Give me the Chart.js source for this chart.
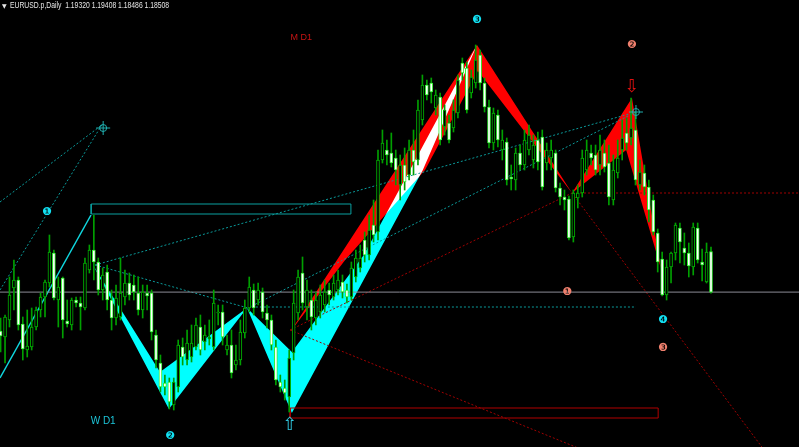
<!DOCTYPE html>
<html>
<head>
<meta charset="utf-8">
<script src="https://cdn.jsdelivr.net/npm/chart.js@4.4.0/dist/chart.umd.min.js"></script>
<style>
  html, body { margin: 0; padding: 0; background: #000; }
  canvas { display: block; }
</style>
</head>
<body>
<canvas id="myChart" width="799" height="447"></canvas>
<script>
// daily EURUSD bars, oldest first
const opens = [
  1.1773,1.1761,1.1795,1.1859,1.1875,1.1787,1.1735,1.1741,1.1781,1.1815,
  1.1841,1.1869,1.1929,1.1835,1.1879,1.1793,1.1785,1.1835,1.1829,1.1819,
  1.1895,1.1935,1.1911,1.1855,1.1891,1.1835,1.1799,1.1801,1.1841,1.1869,
  1.1865,1.1849,1.1815,1.1849,1.1849,1.1765,1.1709,1.1669,1.1671,1.1625,
  1.1661,1.1741,1.1715,1.1721,1.1741,1.1781,1.1751,1.1757,1.1741,1.1809,
  1.1811,1.1735,1.1745,1.1705,1.1715,1.1769,1.1819,1.1855,1.1835,1.1851,
  1.1809,1.1795,1.1741,1.1671,1.1659,1.1641,1.1729,1.1809,1.1889,1.1821,
  1.1835,1.1799,1.1811,1.1825,1.1855,1.1841,1.1855,1.1871,1.1855,1.1841,
  1.1881,1.1899,1.1955,1.1925,1.1985,1.1971,1.2115,1.2135,1.2129,1.2119,
  1.2065,1.2105,1.2085,1.2135,1.2115,1.2195,1.2265,1.2269,1.2219,1.2241,
  1.2181,1.2189,1.2179,1.2209,1.2309,1.2299,1.2249,1.2269,1.2325,1.2269,
  1.2221,1.2149,1.2205,1.2135,1.2151,1.2081,1.2075,1.2129,1.2105,1.2135,
  1.2115,1.2155,1.2161,1.2109,1.2119,1.2129,1.2059,1.2041,1.2037,1.1961,
  1.2039,1.2049,1.2095,1.2129,1.2125,1.2105,1.2129,1.2109,1.2035,1.2089,
  1.2135,1.2169,1.2159,1.2175,1.2065,1.2089,1.2061,1.2035,1.1969,1.1917,
  1.1845,1.1901,1.1929,1.1979,1.1939,1.1929,1.1901,1.1979,1.1911,1.1871,
  1.19320
];
const highs = [
  1.1799,1.1805,1.1881,1.1915,1.1881,1.1801,1.1815,1.1819,1.1821,1.1849,
  1.1875,1.1965,1.1935,1.1881,1.1881,1.1835,1.1839,1.1841,1.1841,1.1919,
  1.1945,1.2005,1.1919,1.1899,1.1905,1.1855,1.1865,1.1919,1.1895,1.1889,
  1.1885,1.1881,1.1865,1.1865,1.1855,1.1775,1.1725,1.1685,1.1679,1.1679,
  1.1755,1.1759,1.1775,1.1785,1.1799,1.1805,1.1785,1.1795,1.1855,1.1825,
  1.1825,1.1765,1.1775,1.1745,1.1795,1.1835,1.1881,1.1867,1.1869,1.1859,
  1.1825,1.1805,1.1755,1.1685,1.1675,1.1735,1.1855,1.1895,1.1921,1.1875,
  1.1855,1.1851,1.1865,1.1875,1.1869,1.1885,1.1895,1.1885,1.1867,1.1911,
  1.1935,1.1945,1.1971,1.2005,1.2035,1.2135,1.2175,1.2155,1.2169,1.2135,
  1.2125,1.2139,1.2155,1.2175,1.2235,1.2285,1.2275,1.2279,1.2255,1.2249,
  1.2225,1.2205,1.2235,1.2285,1.2319,1.2311,1.2295,1.2345,1.2335,1.2279,
  1.2235,1.2219,1.2215,1.2175,1.2159,1.2105,1.2139,1.2145,1.2175,1.2185,
  1.2165,1.2171,1.2175,1.2149,1.2155,1.2135,1.2069,1.2055,1.2043,1.2055,
  1.2065,1.2135,1.2155,1.2145,1.2145,1.2165,1.2155,1.2145,1.2125,1.2155,
  1.2195,1.2199,1.2239,1.2211,1.2115,1.2105,1.2075,1.2045,1.1977,1.1931,
  1.1915,1.1931,1.1989,1.1989,1.1969,1.1949,1.1989,1.1989,1.1937,1.1949,
  1.19408
];
const lows = [
  1.1731,1.1709,1.1781,1.1815,1.1775,1.1715,1.1721,1.1735,1.1775,1.1801,
  1.1801,1.1861,1.1835,1.1781,1.1759,1.1781,1.1775,1.1821,1.1775,1.1815,
  1.1889,1.1875,1.1845,1.1835,1.1815,1.1775,1.1785,1.1795,1.1825,1.1835,
  1.1835,1.1805,1.1799,1.1815,1.1755,1.1699,1.1651,1.1645,1.1617,1.1615,
  1.1651,1.1705,1.1705,1.1711,1.1735,1.1725,1.1735,1.1745,1.1735,1.1785,
  1.1745,1.1725,1.1679,1.1695,1.1705,1.1759,1.1811,1.1805,1.1825,1.1799,
  1.1779,1.1735,1.1665,1.1651,1.1635,1.1611,1.1715,1.1795,1.1815,1.1795,
  1.1775,1.1785,1.1799,1.1811,1.1825,1.1835,1.1845,1.1839,1.1829,1.1835,
  1.1871,1.1891,1.1911,1.1915,1.1951,1.1955,1.2109,1.2105,1.2101,1.2065,
  1.2035,1.2055,1.2075,1.2085,1.2105,1.2185,1.2235,1.2229,1.2205,1.2145,
  1.2165,1.2149,1.2171,1.2199,1.2275,1.2209,1.2239,1.2259,1.2255,1.2211,
  1.2139,1.2135,1.2141,1.2115,1.2065,1.2055,1.2055,1.2095,1.2095,1.2125,
  1.2099,1.2095,1.2055,1.2095,1.2095,1.2051,1.2025,1.2015,1.1955,1.1951,
  1.2019,1.2041,1.2085,1.2105,1.2085,1.2085,1.2091,1.2025,1.2025,1.2079,
  1.2115,1.2135,1.2145,1.2065,1.2055,1.2045,1.1991,1.1965,1.1891,1.1843,
  1.1835,1.1869,1.1915,1.1909,1.1905,1.1881,1.1885,1.1909,1.1873,1.1869,
  1.18486
];
const closes = [
  1.1763,1.1801,1.1845,1.1875,1.1785,1.1737,1.1743,1.1781,1.1815,1.1841,
  1.1871,1.1931,1.1839,1.1861,1.1795,1.1787,1.1835,1.1829,1.1821,1.1909,
  1.1935,1.1911,1.1855,1.1885,1.1835,1.1799,1.1839,1.1849,1.1869,1.1845,
  1.1851,1.1815,1.1851,1.1843,1.1771,1.1715,1.1661,1.1661,1.1631,1.1671,
  1.1745,1.1721,1.1749,1.1749,1.1785,1.1735,1.1765,1.1761,1.1829,1.1811,
  1.1761,1.1745,1.1689,1.1715,1.1771,1.1819,1.1861,1.1819,1.1855,1.1811,
  1.1795,1.1745,1.1675,1.1661,1.1649,1.1719,1.1829,1.1881,1.1829,1.1855,
  1.1801,1.1835,1.1845,1.1851,1.1845,1.1869,1.1875,1.1851,1.1841,1.1899,
  1.1919,1.1919,1.1925,1.1975,1.1965,1.2115,1.2149,1.2125,1.2109,1.2095,
  1.2105,1.2071,1.2135,1.2111,1.2215,1.2265,1.2245,1.2251,1.2245,1.2155,
  1.2215,1.2155,1.2215,1.2275,1.2289,1.2215,1.2281,1.2315,1.2269,1.2221,
  1.2149,1.2209,1.2155,1.2155,1.2075,1.2077,1.2129,1.2105,1.2155,1.2165,
  1.2145,1.2111,1.2061,1.2135,1.2135,1.2059,1.2041,1.2035,1.1959,1.2049,
  1.2049,1.2119,1.2135,1.2119,1.2095,1.2135,1.2101,1.2041,1.2095,1.2119,
  1.2159,1.2149,1.2179,1.2075,1.2091,1.2061,1.2015,1.1971,1.1911,1.1845,
  1.1901,1.1929,1.1985,1.1951,1.1929,1.1903,1.1981,1.1915,1.1905,1.1931,
  1.18508
];
const bars = opens.map((v, i) => i);

// harmonic wings, [bar, price]
const wOuter1 = [[20.8, 1.1905], [37.9, 1.1617], [55.5, 1.1819]];
const wInner1 = [[20.8, 1.1905], [35.9, 1.1691], [55.5, 1.1819]];
const wOuter2 = [[55.5, 1.1819], [65.6, 1.1609], [95.1, 1.2095], [107.3, 1.2345]];
const wInner2 = [[55.5, 1.1819], [65.6, 1.1731], [81.8, 1.1925], [92.2, 1.2095], [107.3, 1.2345]];
const mOuter1 = [[65.2, 1.1771], [107.3, 1.2345], [128.7, 1.2049]];
const mInner1 = [[65.2, 1.1771], [77.6, 1.1915], [95.6, 1.2095], [107.5, 1.2293], [128.7, 1.2049]];
const mOuter2 = [[128.7, 1.2049], [142.2, 1.2239], [148.7, 1.1899]];
const mInner2 = [[128.7, 1.2049], [140.9, 1.2135], [148.7, 1.1899]];

// trend lines
const cyanDots = [
  [[-0.14, 1.2031], [22.8, 1.2185]],
  [[-0.14, 1.1855], [22.8, 1.2185]],
  [[21.3, 1.1905], [143.1, 1.2211]],
  [[21.3, 1.1905], [55.7, 1.1819]],
  [[55.7, 1.1821], [143.1, 1.1821]],
  [[55.7, 1.1819], [143.1, 1.2211]]
];
const cyanSolid = [[-0.14, 1.1679], [20.36, 1.2005]];
const redDots = [
  [[65.2, 1.1775], [128.7, 1.2049]],
  [[65.2, 1.1775], [135, 1.1521]],
  [[128.7, 1.2049], [180, 1.2049]],
  [[128.7, 1.2049], [175.5, 1.1493]]
];
const bidPrice = 1.18508;
const cyanBox = [20.4, 78.9, 1.2007, 1.2027];
const redBox = [65.2, 148.1, 1.1599, 1.1619];
const crossMarks = [[23.1, 1.2179], [143.1, 1.2211]];

// text marks
const labels = [
  [10.45, 1.2011, '\u2776', '#12e0f2', "11px 'DejaVu Sans'"],
  [38.2, 1.1563, '\u2777', '#12e0f2', "11px 'DejaVu Sans'"],
  [107.3, 1.2395, '\u2778', '#12e0f2', "11px 'DejaVu Sans'"],
  [149.2, 1.1795, '\u2779', '#12e0f2', "11px 'DejaVu Sans'"],
  [127.6, 1.1851, '\u2776', '#f0806e', "11px 'DejaVu Sans'"],
  [142.2, 1.2345, '\u2777', '#f0806e', "11px 'DejaVu Sans'"],
  [149.2, 1.1739, '\u2778', '#f0806e', "11px 'DejaVu Sans'"],
  [67.7, 1.2359, 'M D1', '#c81414', "9px 'Liberation Sans'"],
  [23.1, 1.1593, 'W D1', '#1cc4d8', "10px 'Liberation Sans'"],
  [65.2, 1.1585, '\u21E7', '#30c8e0', "18px 'DejaVu Sans'"],
  [142.2, 1.2261, '\u21E9', '#e01010', "18px 'DejaVu Sans'"]
];
const header = 'EURUSD.p,Daily  1.19320 1.19408 1.18486 1.18508';

const toXY = pts => pts.map(p => ({x: p[0], y: p[1]}));
const datasets = [];

function addWing(outer, inner, color) {
  datasets.push({type: 'line', data: toXY(inner), borderColor: 'rgba(0,0,0,0)', borderWidth: 1,
    fill: false, order: 5, blend: 'difference'});
  const target = datasets.length - 1;
  datasets.push({type: 'line', data: toXY(outer), borderColor: 'rgba(0,0,0,0)', borderWidth: 1,
    backgroundColor: color, fill: {target: target, above: color, below: color}, order: 5, blend: 'difference'});
}
function addLine(pts, color, dash, width) {
  datasets.push({type: 'line', data: toXY(pts), borderColor: color, borderWidth: width,
    borderDash: dash, fill: false, order: 3});
}
function addBox(b, color) {
  addLine([[b[0], b[2]], [b[1], b[2]], [b[1], b[3]], [b[0], b[3]], [b[0], b[2]]], color, [], 1);
}

addWing(wOuter1, wInner1, '#00ffff');
addWing(wOuter2, wInner2, '#00ffff');
addWing(mOuter1, mInner1, '#ff0000');
addWing(mOuter2, mInner2, '#ff0000');

addLine([[-1, bidPrice], [181, bidPrice]], '#8c8c96', [], 1);
cyanDots.forEach(l => addLine(l, '#0a9a9a', [2, 2], 1));
redDots.forEach(l => addLine(l, '#a00000', [2, 2], 1));
addLine(cyanSolid, '#10d8e0', [], 1.5);
addBox(cyanBox, '#0aa0a0');
addBox(redBox, '#b00000');

const isBull = i => closes[i] > opens[i];
datasets.push({
  type: 'bar', grouped: false, order: 2, barThickness: 1,
  data: bars.map(i => ({x: i, y: [lows[i], highs[i]]})),
  backgroundColor: '#00a000'
});
datasets.push({
  type: 'bar', grouped: false, order: 1, barThickness: 3, borderWidth: 1,
  borderSkipped: false, minBarLength: 1,
  data: bars.map(i => ({x: i, y: [opens[i], closes[i]]})),
  backgroundColor: ctx => isBull(ctx.dataIndex) ? '#000000' : '#ffffff',
  borderColor: ctx => isBull(ctx.dataIndex) ? '#00b400' : '#30f030'
});

datasets.push({type: 'scatter', data: toXY(crossMarks), order: 0, pointStyle: 'circle',
  pointRadius: 3.5, pointBorderColor: '#20b0b0', pointBackgroundColor: 'rgba(0,0,0,0)', pointBorderWidth: 1});
datasets.push({type: 'scatter', data: toXY(crossMarks), order: 0, pointStyle: 'cross',
  pointRadius: 7, pointBorderColor: '#20b0b0', pointBorderWidth: 1});

const mtPlugin = {
  id: 'mtLook',
  beforeDraw(chart) {
    const c = chart.ctx;
    c.save();
    c.fillStyle = '#000';
    c.fillRect(0, 0, chart.width, chart.height);
    c.restore();
  },
  beforeDatasetsDraw(chart) {
    chart.ctx.globalCompositeOperation = 'difference';
  },
  beforeDatasetDraw(chart, args) {
    chart.ctx.globalCompositeOperation = chart.data.datasets[args.index].blend || 'source-over';
  },
  afterDatasetsDraw(chart) {
    const c = chart.ctx;
    const sx = chart.scales.x, sy = chart.scales.y;
    c.globalCompositeOperation = 'source-over';
    c.save();
    c.textAlign = 'center';
    c.textBaseline = 'middle';
    labels.forEach(l => {
      c.font = l[4];
      c.fillStyle = l[3];
      c.fillText(l[2], sx.getPixelForValue(l[0]), sy.getPixelForValue(l[1]));
    });
    c.textAlign = 'left';
    c.fillStyle = '#e6e6e6';
    c.font = "6px 'DejaVu Sans'";
    c.fillText('\u25BC', 2, 6);
    c.scale(0.8, 1);
    c.font = "8.5px 'Liberation Sans'";
    c.fillText(header, 10 / 0.8, 6);
    c.restore();
  }
};

const config = {
  type: 'line',
  data: {datasets: datasets},
  options: {
    responsive: false,
    animation: false,
    events: [],
    layout: {padding: 0, autoPadding: false},
    elements: {point: {radius: 0}, line: {tension: 0}},
    plugins: {legend: {display: false}, tooltip: {enabled: false}},
    scales: {
      x: {type: 'linear', min: -0.135, max: 179.82, offset: false, display: false},
      y: {type: 'linear', min: 1.1541, max: 1.2435, display: false}
    }
  },
  plugins: [mtPlugin]
};

const myChart = new Chart(document.getElementById('myChart'), config);
</script>
</body>
</html>
